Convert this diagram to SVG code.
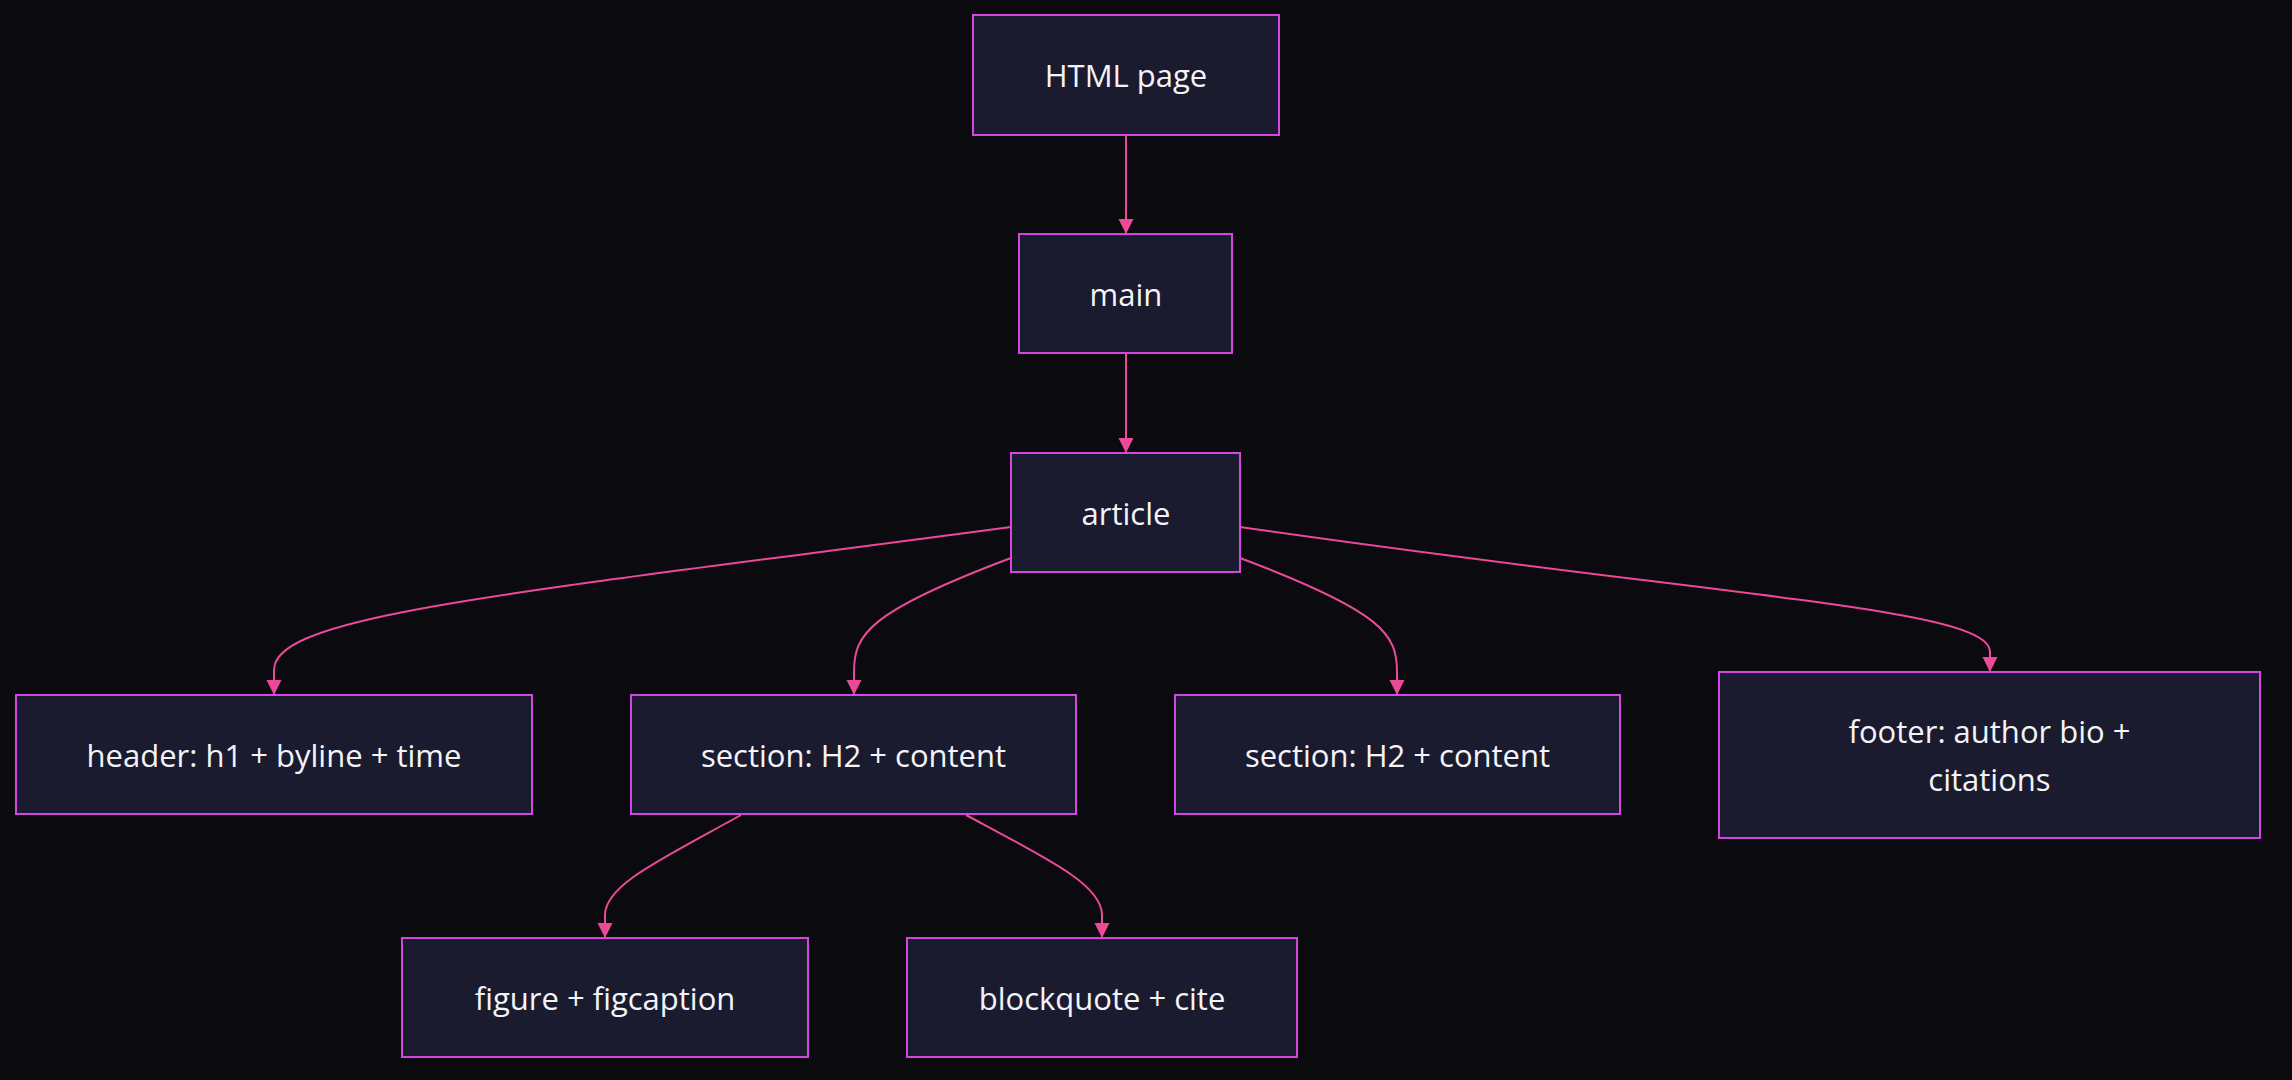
<svg xmlns="http://www.w3.org/2000/svg" width="2292" height="1080" viewBox="0 0 2292 1080">
<style>
.node rect{fill:#1b1b2f;stroke:#d545e0;stroke-width:2}
.node text{fill:#f4f4f8;font-family:"Open Sans","Noto Sans",sans-serif;font-size:31px;text-anchor:middle}
.edge{fill:none;stroke:#ea4a98;stroke-width:2;marker-end:url(#arrow)}
</style>
<defs>
<marker id="arrow" viewBox="0 0 10 10" refX="10" refY="5" markerWidth="15" markerHeight="16" markerUnits="userSpaceOnUse" orient="auto">
<path d="M0,0 L10,5 L0,10 z" fill="#ea4a98"/>
</marker>
</defs>
<rect x="0" y="0" width="2292" height="1080" fill="#0a0a0f"/>
<g id="edges">
<path class="edge" d="M1126,135 L1126,234"/>
<path class="edge" d="M1126,353 L1126,453"/>
<path class="edge" d="M1011,527 C500,595 274,615 274,670 L274,695"/>
<path class="edge" d="M1011,558 C867,612 854,635 854,672 L854,695"/>
<path class="edge" d="M1240,558 C1384,612 1397,635 1397,672 L1397,695"/>
<path class="edge" d="M1240,527 C1730,598 1990,608 1990,652 L1990,672"/>
<path class="edge" d="M741,815 C660,860 605,885 605,915 L605,938"/>
<path class="edge" d="M966,815 C1050,860 1102,885 1102,915 L1102,938"/>
</g>
<g id="n-html" class="node"><rect x="973" y="15" width="306" height="120"/><text x="1126" y="87">HTML page</text></g>
<g id="n-main" class="node"><rect x="1019" y="234" width="213" height="119"/><text x="1126" y="306">main</text></g>
<g id="n-article" class="node"><rect x="1011" y="453" width="229" height="119"/><text x="1126" y="525">article</text></g>
<g id="n-header" class="node"><rect x="16" y="695" width="516" height="119"/><text x="274" y="767">header: h1 + byline + time</text></g>
<g id="n-section1" class="node"><rect x="631" y="695" width="445" height="119"/><text x="853.5" y="767">section: H2 + content</text></g>
<g id="n-section2" class="node"><rect x="1175" y="695" width="445" height="119"/><text x="1397.5" y="767">section: H2 + content</text></g>
<g id="n-footer" class="node"><rect x="1719" y="672" width="541" height="166"/><text x="1989.5" y="743">footer: author bio +</text><text x="1989.5" y="791">citations</text></g>
<g id="n-figure" class="node"><rect x="402" y="938" width="406" height="119"/><text x="605" y="1010">figure + figcaption</text></g>
<g id="n-blockquote" class="node"><rect x="907" y="938" width="390" height="119"/><text x="1102" y="1010">blockquote + cite</text></g>
</svg>
